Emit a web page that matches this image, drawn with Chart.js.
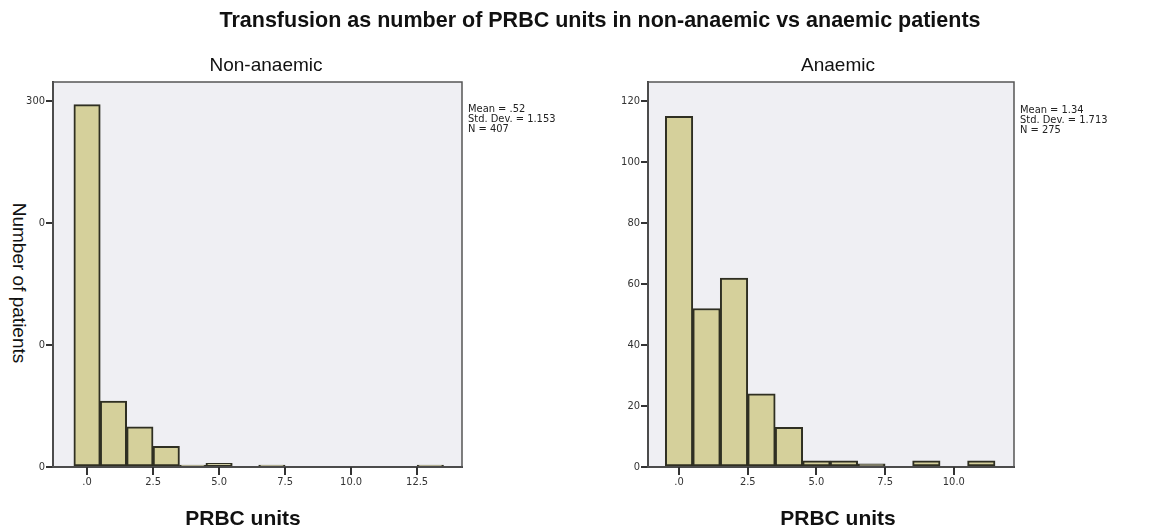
<!DOCTYPE html>
<html>
<head>
<meta charset="utf-8">
<script src="https://cdn.jsdelivr.net/npm/chart.js@4/dist/chart.umd.min.js"></script>
<style>
	body { margin: 0; background: #fff; width: 1163px; height: 530px; position: relative; overflow: hidden; font-family: 'Liberation Sans', Arial, sans-serif; }
	canvas { position: absolute; top: 0; }
	#c1 { left: 0; }
	#c2 { left: 580px; }
	.txt { position: absolute; white-space: nowrap; color: #111; }
	#mainTitle { top: 8px; left: 0; width: 1200px; text-align: center; font-weight: bold; font-size: 21.5px; }
	.sub { top: 54px; font-size: 19px; transform: translateX(-50%); }
	.xt { top: 506px; font-size: 21px; font-weight: bold; transform: translateX(-50%); }
	.stats { font-family: 'Liberation Sans Narrow', 'DejaVu Sans Condensed', sans-serif; font-size: 11px; line-height: 10px; color: #222; }
	#yTitle { left: 0; top: 130px; width: 39px; height: 310px; background: #fff; }
	#yTitle span { position: absolute; left: 19px; top: 153px; transform: translate(-50%, -50%) rotate(90deg); font-size: 19px; color: #111; }
</style>
</head>
<body>
<canvas id="c1" width="580" height="530"></canvas>
<canvas id="c2" width="583" height="530"></canvas>
<div class="txt" id="mainTitle">Transfusion as number of PRBC units in non-anaemic vs anaemic patients</div>
<div class="txt sub" style="left:266px">Non-anaemic</div>
<div class="txt sub" style="left:838px">Anaemic</div>
<div class="txt xt" style="left:243px">PRBC units</div>
<div class="txt xt" style="left:838px">PRBC units</div>
<div class="txt stats" style="left:468px; top:104px">Mean = .52<br>Std. Dev. = 1.153<br>N = 407</div>
<div class="txt stats" style="left:1020px; top:105px">Mean = 1.34<br>Std. Dev. = 1.713<br>N = 275</div>
<div class="txt" id="yTitle"><span>Number of patients</span></div>
<script>
// 히스토그램 구간 (PRBC units) 및 환자 수
var binsNonAnaemic = [0, 1, 2, 3, 4, 5, 6, 7, 8, 9, 10, 11, 12, 13];
var countsNonAnaemic = [297, 54, 33, 17, 1, 3, 0, 1, 0, 0, 0, 0, 0, 1];
var binsAnaemic = [0, 1, 2, 3, 4, 5, 6, 7, 8, 9, 10, 11];
var countsAnaemic = [115, 52, 62, 24, 13, 2, 2, 1, 0, 2, 0, 2];

// 축 눈금
var xTicksNonAnaemic = [0, 2.5, 5, 7.5, 10, 12.5];
var xLabelsNonAnaemic = ['.0', '2.5', '5.0', '7.5', '10.0', '12.5'];
var xTicksAnaemic = [0, 2.5, 5, 7.5, 10];
var xLabelsAnaemic = ['.0', '2.5', '5.0', '7.5', '10.0'];
var yTicksNonAnaemic = [0, 100, 200, 300];
var yTicksAnaemic = [0, 20, 40, 60, 80, 100, 120];

var tickFont = { family: "'Liberation Sans Narrow', 'DejaVu Sans Condensed', sans-serif", size: 11 };

// 플롯 배경 + 테두리 + x축 눈금선
var framePlugin = {
	id: 'frame',
	beforeDraw: function(chart) {
		var a = chart.chartArea, ctx = chart.ctx;
		ctx.save();
		ctx.fillStyle = '#efeff3';
		ctx.fillRect(a.left, a.top, a.right - a.left, a.bottom - a.top);
		ctx.restore();
	},
	afterDraw: function(chart) {
		var a = chart.chartArea, ctx = chart.ctx;
		var xs = chart.scales.x;
		ctx.save();
		ctx.strokeStyle = '#555';
		ctx.lineWidth = 1.5;
		ctx.strokeRect(a.left, a.top, a.right - a.left, a.bottom - a.top);
		// x 눈금 표시
		ctx.strokeStyle = '#333';
		ctx.lineWidth = 2;
		xs.ticks.forEach(function(t) {
			var px = Math.round(xs.getPixelForValue(t.value));
			ctx.beginPath();
			ctx.moveTo(px, a.bottom);
			ctx.lineTo(px, a.bottom + 8);
			ctx.stroke();
		});
		ctx.restore();
	}
};

function makeHist(id, bins, counts, opt) {
	var points = [];
	bins.forEach(function(b, i) {
		if (counts[i] > 0) points.push({ x: b, y: counts[i] });
	});

	return new Chart(document.getElementById(id), {
		type: 'bar',
		data: {
			datasets: [{
				data: points,
				backgroundColor: '#d5d09b',
				borderColor: '#2f2f22',
				borderWidth: 2,
				borderSkipped: false,
				minBarLength: 2,
				barPercentage: 1,
				categoryPercentage: 1
			}]
		},
		options: {
			animation: false,
			responsive: false,
			maintainAspectRatio: false,
			layout: { padding: { top: 82, right: opt.padRight, left: 0, bottom: 0 } },
			plugins: { legend: { display: false }, tooltip: { enabled: false } },
			scales: {
				x: {
					type: 'linear',
					min: opt.xMin,
					max: opt.xMax,
					offset: false,
					afterFit: function(scale) { scale.height = 63; },
					afterBuildTicks: function(axis) {
						axis.ticks = opt.xTicks.map(function(v) { return { value: v }; });
					},
					border: { display: true, color: '#333', width: 2 },
					grid: { offset: false, drawOnChartArea: false, drawTicks: true, tickLength: 8, color: 'transparent' },
					ticks: {
						padding: 1,
						maxRotation: 0,
						autoSkip: false,
						color: '#333',
						font: tickFont,
						callback: function(value, index) { return opt.xLabels[index]; }
					}
				},
				y: {
					min: 0,
					max: opt.yMax,
					afterFit: function(scale) { scale.width = opt.yWidth; },
					afterBuildTicks: function(axis) {
						axis.ticks = opt.yTicks.map(function(v) { return { value: v }; });
					},
					border: { display: true, color: '#333', width: 2 },
					grid: { drawOnChartArea: false, drawTicks: true, tickLength: 7, color: '#333', lineWidth: 2 },
					ticks: {
						padding: 1,
						color: '#333',
						font: tickFont,
						callback: function(value) { return String(value); }
					}
				}
			}
		},
		plugins: [framePlugin]
	});
}

makeHist('c1', binsNonAnaemic, countsNonAnaemic, {
	xMin: -1.29, xMax: 14.2, yMax: 315.6,
	xTicks: xTicksNonAnaemic, xLabels: xLabelsNonAnaemic, yTicks: yTicksNonAnaemic,
	padRight: 118, yWidth: 53
});
makeHist('c2', binsAnaemic, countsAnaemic, {
	xMin: -1.13, xMax: 12.19, yMax: 126.3,
	xTicks: xTicksAnaemic, xLabels: xLabelsAnaemic, yTicks: yTicksAnaemic,
	padRight: 149, yWidth: 68
});
</script>
</body>
</html>
